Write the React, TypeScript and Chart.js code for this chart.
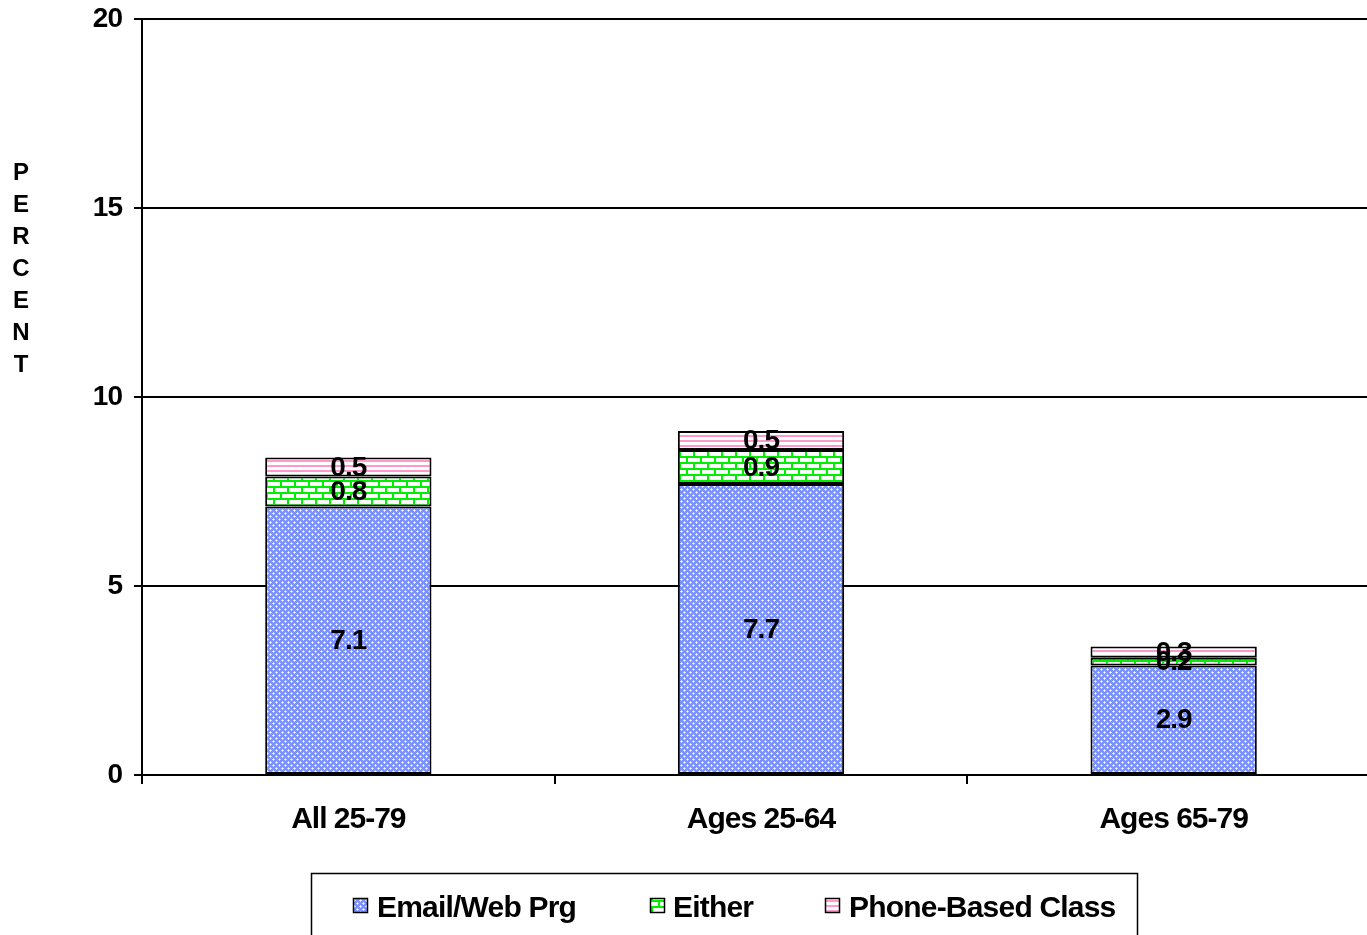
import React, { useEffect, useRef } from "react";
import { Chart, registerables } from "chart.js";

Chart.register(...registerables);

const categories = ["All 25-79", "Ages 25-64", "Ages 65-79"];
const emailWeb = [7.1, 7.7, 2.9];
const either = [0.8, 0.9, 0.2];
const phoneBased = [0.5, 0.5, 0.3];
const seriesLabels = ["Email/Web Prg", "Either", "Phone-Based Class"];
const yTickValues = [0, 5, 10, 15, 20];
const yAxisTitle = "PERCENT";

const FONT = "'Liberation Sans', Arial, sans-serif";

function makePattern(kind: string): CanvasPattern | string {
  const c = document.createElement("canvas");
  const ctx = c.getContext("2d")!;
  if (kind === "blue") {
    c.width = 6; c.height = 6;
    ctx.fillStyle = "#7a91ff";
    ctx.fillRect(0, 0, 6, 6);
    ctx.fillStyle = "#ffffff";
    ctx.fillRect(0, 0, 1, 1);
    ctx.fillRect(3, 3, 1, 1);
    ctx.fillStyle = "#d0d8ff";
    ctx.fillRect(1, 0, 1, 1); ctx.fillRect(0, 1, 1, 1);
    ctx.fillRect(5, 0, 1, 1); ctx.fillRect(0, 5, 1, 1);
    ctx.fillRect(2, 3, 1, 1); ctx.fillRect(4, 3, 1, 1);
    ctx.fillRect(3, 2, 1, 1); ctx.fillRect(3, 4, 1, 1);
  } else if (kind === "green") {
    c.width = 14; c.height = 12;
    ctx.fillStyle = "#ffffff";
    ctx.fillRect(0, 0, 14, 12);
    ctx.fillStyle = "#00ee00";
    ctx.fillRect(0, 0, 14, 2);
    ctx.fillRect(0, 6, 14, 2);
    ctx.fillRect(0, 0, 2, 6);
    ctx.fillRect(7, 6, 2, 6);
  } else {
    c.width = 4; c.height = 5;
    ctx.fillStyle = "#ffffff";
    ctx.fillRect(0, 0, 4, 5);
    ctx.fillStyle = "#ff99cc";
    ctx.fillRect(0, 0, 4, 2);
  }
  return ctx.createPattern(c, "repeat") || "#ccc";
}

export default function App() {
  const ref = useRef<HTMLCanvasElement>(null);
  useEffect(() => {
    const canvas = ref.current!;
    const fills = [makePattern("blue"), makePattern("green"), makePattern("pink")];

    const spacingPlugin = {
      id: "spacing",
      beforeDraw(chart: any) {
        chart.ctx.letterSpacing = "-1px";
      },
      afterDraw(chart: any) {
        chart.ctx.letterSpacing = "0px";
      },
    };

    const labelsPlugin = {
      id: "extras",
      afterDatasetsDraw(chart: any) {
        const ctx = chart.ctx;
        ctx.save();
        ctx.letterSpacing = "-1px";
        ctx.fillStyle = "#000";
        ctx.font = `bold 28px ${FONT}`;
        ctx.textAlign = "center";
        ctx.textBaseline = "middle";
        chart.data.datasets.forEach((ds: any, di: number) => {
          const meta = chart.getDatasetMeta(di);
          meta.data.forEach((bar: any, i: number) => {
            const p = bar.getProps(["x", "y", "base"], true);
            ctx.fillText(Number(ds.data[i]).toFixed(1), p.x, (p.y + p.base) / 2 + 1);
          });
        });
        ctx.restore();
      },
      afterDraw(chart: any) {
        const ctx = chart.ctx;
        ctx.save();
        ctx.letterSpacing = "0px";
        ctx.fillStyle = "#000";
        ctx.font = `bold 24px ${FONT}`;
        ctx.textAlign = "center";
        ctx.textBaseline = "middle";
        yAxisTitle.split("").forEach((ch, i) => {
          ctx.fillText(ch, 21, 173 + i * 32);
        });
        ctx.strokeStyle = "#000";
        ctx.lineWidth = 1.5;
        ctx.strokeRect(311.5, 873.5, 826, 100);
        const iconX = [353, 650, 825];
        const textX = [377, 673, 849];
        ctx.font = `bold 30px ${FONT}`;
        ctx.letterSpacing = "-0.8px";
        ctx.textAlign = "left";
        ctx.textBaseline = "alphabetic";
        chart.data.datasets.forEach((ds: any, i: number) => {
          ctx.fillStyle = ds.backgroundColor;
          ctx.fillRect(iconX[i], 898, 14, 14);
          ctx.lineWidth = 1.5;
          ctx.strokeStyle = "#000";
          ctx.strokeRect(iconX[i] + 0.5, 898.5, 14, 14);
          ctx.fillStyle = "#000";
          ctx.fillText(ds.label, textX[i], 917);
        });
        ctx.restore();
      },
    };

    const chart = new Chart(canvas, {
      type: "bar",
      data: {
        labels: categories,
        datasets: [
          { label: seriesLabels[0], data: emailWeb, backgroundColor: fills[0] as any },
          { label: seriesLabels[1], data: either, backgroundColor: fills[1] as any },
          { label: seriesLabels[2], data: phoneBased, backgroundColor: fills[2] as any },
        ].map((d) => ({
          ...d,
          borderColor: "#000",
          borderWidth: 2,
          borderSkipped: false,
          categoryPercentage: 1,
          barPercentage: 0.403,
        })),
      },
      options: {
        animation: false,
        responsive: false,
        maintainAspectRatio: false,
        events: [],
        layout: { padding: { top: 19, right: 0, bottom: 0, left: 0 } },
        plugins: {
          legend: { display: false },
          tooltip: { enabled: false },
          title: { display: false },
        },
        scales: {
          x: {
            stacked: true,
            afterFit: (s: any) => { s.height = 935 - 775; s.paddingLeft = 0; s.paddingRight = 0; },
            grid: {
              offset: true,
              drawOnChartArea: false,
              drawTicks: true,
              tickLength: 9,
              color: "#000",
              lineWidth: 2,
            },
            border: { display: true, color: "#000", width: 2 },
            ticks: {
              color: "#000",
              font: { family: FONT, size: 30, weight: "bold" },
              padding: 18,
              maxRotation: 0,
            },
          },
          y: {
            stacked: true,
            min: 0,
            max: 20,
            afterFit: (s: any) => { s.width = 142; s.paddingTop = 0; s.paddingBottom = 0; },
            afterBuildTicks: (s: any) => { s.ticks = yTickValues.map((v) => ({ value: v })); },
            grid: {
              color: "#000",
              lineWidth: 2,
              drawTicks: true,
              tickLength: 8,
            },
            border: { display: true, color: "#000", width: 2 },
            ticks: {
              color: "#000",
              font: { family: FONT, size: 28, weight: "bold" },
              padding: 12,
            },
          },
        },
      },
      plugins: [spacingPlugin, labelsPlugin],
    });
    return () => chart.destroy();
  }, []);

  return (
    <div style={{ position: "fixed", left: 0, top: 0, width: 1367, height: 935, overflow: "hidden", background: "#fff" }}>
      <canvas ref={ref} width={1380} height={935} style={{ display: "block", width: 1380, height: 935 }} />
    </div>
  );
}
